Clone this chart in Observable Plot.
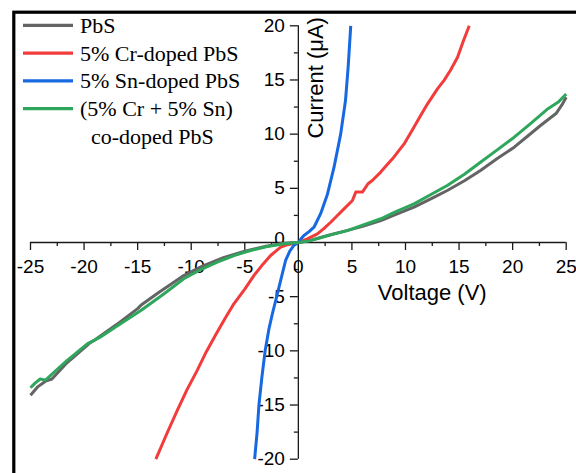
<!DOCTYPE html>
<html>
<head>
<meta charset="utf-8">
<script src="https://cdn.jsdelivr.net/npm/d3@7"></script>
<script src="https://cdn.jsdelivr.net/npm/@observablehq/plot@0.6"></script>
<style>
  html, body { margin: 0; padding: 0; background: #fff; overflow: hidden; }
</style>
</head>
<body>
<div id="chart"></div>
<script>
// I–V curves: voltage (V) and current (µA) for each sample
const pbsV = [-25, -24.3, -23.6, -23, -21.6, -21, -19.5, -19, -17, -15, -14.7, -13, -11, -10.7, -9, -7, -5, -3, -1.5, 0,
  1, 2, 3, 4.5, 6, 7.7, 9, 10.8, 12.5, 13.9, 15.5, 17, 18.5, 20.15, 21.5, 22.6, 24.05, 24.6, 25];
const pbsI = [-14.1, -13.3, -12.8, -12.6, -11.1, -10.6, -9.3, -9.0, -7.6, -6.1, -5.8, -4.6, -3.25, -3.05, -2.2, -1.4, -0.8, -0.35, -0.1, 0,
  0.15, 0.45, 0.72, 1.1, 1.5, 2.03, 2.55, 3.26, 4.1, 4.8, 5.7, 6.65, 7.7, 8.8, 9.9, 10.8, 11.9, 12.7, 13.4];

const crV = [-13.3, -12.3, -11.3, -10.4, -9.44, -8.6, -7.7, -6.9, -6.02, -5, -4.15, -3.3, -2.59, -2.1, -1.65, -1, 0,
  0.84, 1.78, 2.4, 3.02, 3.6, 4.26, 5.05, 5.36, 5.98, 6.5, 6.9, 7.69, 8.3, 8.93, 9.87, 10.8, 11.4, 12.06, 13.0, 13.6, 14.2, 14.86, 15.4, 15.95];
const crI = [-20, -17.7, -15.5, -13.6, -11.8, -10.1, -8.5, -7.1, -5.66, -4.3, -3.05, -2.0, -1.2, -0.8, -0.43, -0.2, 0,
  0.34, 0.8, 1.3, 1.87, 2.45, 3.1, 3.88, 4.65, 4.65, 5.42, 5.72, 6.5, 7.2, 7.9, 9.1, 10.65, 11.7, 12.8, 14.2, 14.96, 15.9, 17.1, 18.6, 20];

const snV = [-4.08, -3.85, -3.68, -3.4, -3.1, -2.75, -2.43, -2.0, -1.65, -1.19, -0.8, -0.4, 0,
  0.25, 0.52, 1.0, 1.46, 2.08, 2.7, 3.33, 3.95, 4.4, 4.65, 4.89];
const snI = [-20, -17.5, -15, -12.4, -10, -8, -6.6, -4.9, -3.5, -1.66, -0.8, -0.25, 0,
  0.35, 0.65, 1.0, 1.41, 2.66, 4.4, 6.95, 10, 13.1, 16.2, 20];

const coV = [-25, -24.6, -24.1, -23.6, -22.5, -21.6, -19.7, -18.5, -17.2, -14.7, -12.5, -10.7, -9, -7.57, -6, -4.46, -3, -1.35, 0,
  1, 2, 3, 4.58, 6, 7.7, 9, 10.8, 12.5, 13.9, 15.5, 17, 18.5, 20.15, 21.7, 23.3, 24.3, 25];
const coI = [-13.4, -13.0, -12.6, -12.7, -11.7, -10.9, -9.35, -8.74, -7.9, -6.28, -4.7, -3.35, -2.45, -1.82, -1.2, -0.74, -0.4, -0.12, 0,
  0.15, 0.42, 0.7, 1.1, 1.6, 2.19, 2.8, 3.57, 4.5, 5.26, 6.3, 7.4, 8.5, 9.72, 11.0, 12.35, 13.0, 13.7];

const seriesNames = ["PbS", "5% Cr-doped PbS", "5% Sn-doped PbS", "(5% Cr + 5% Sn) co-doped PbS"];
const seriesColors = ["#646464", "#f23b3b", "#1769e2", "#2ea65c"];
const legendLines = [["PbS"], ["5% Cr-doped PbS"], ["5% Sn-doped PbS"], ["(5% Cr + 5% Sn)", "co-doped PbS"]];

const xTicks = [-25, -20, -15, -10, -5, 0, 5, 10, 15, 20, 25];
const yTicks = [-20, -15, -10, -5, 5, 10, 15, 20];
const yZero = [0];
const xMinor = [-22.5, -17.5, -12.5, -7.5, -2.5, 2.5, 7.5, 12.5, 17.5, 22.5];
const yMinor = [-17.5, -12.5, -7.5, -2.5, 2.5, 7.5, 12.5, 17.5];

const series = [[pbsV, pbsI], [crV, crI], [snV, snI], [coV, coI]];
const rows = series.flatMap(([vs, is], k) => vs.map((v, j) => ({series: seriesNames[k], v, i: is[j]})));

const axisColor = "#1a1a1a";
const sans = "'Liberation Sans', Arial, sans-serif";
const serif = "'Liberation Serif', 'Times New Roman', serif";

// legend drawn in the top-left corner of the plot
function legend() {
  const g = d3.create("svg:g").attr("text-anchor", "start");
  legendLines.forEach((lines, k) => {
    const y = 25.3 + k * 27.8;
    g.append("line")
      .attr("x1", 23).attr("x2", 73).attr("y1", y).attr("y2", y)
      .attr("stroke", seriesColors[k]).attr("stroke-width", 3.2);
    lines.forEach((t, m) => {
      g.append("text")
        .attr("x", m === 0 ? 80 : 91)
        .attr("y", y + 7.5 + m * 27.8)
        .attr("text-anchor", "start")
        .attr("font-family", serif)
        .attr("font-size", 22)
        .attr("fill", "#000")
        .text(t);
    });
  });
  return g.node();
}

const chart = Plot.plot({
  width: 576,
  height: 473,
  marginLeft: 30,
  marginRight: 10.3,
  marginTop: 25.3,
  marginBottom: 14.3,
  x: {domain: [-25, 25], axis: null},
  y: {domain: [-20, 20], axis: null},
  color: {domain: seriesNames, range: seriesColors},
  style: {background: "#fff", fontFamily: sans},
  marks: [
    Plot.frame({stroke: "#000", strokeWidth: 3.2, insetLeft: -16.7, insetTop: -13.6, insetRight: -40, insetBottom: -40}),
    // axes crossing at the origin
    Plot.ruleY([0], {x1: -25, x2: 25, stroke: axisColor, strokeWidth: 1.3}),
    Plot.ruleX([0], {y1: -20, y2: 20, stroke: axisColor, strokeWidth: 1.3}),
    Plot.ruleX(xTicks, {x: d => d, y1: 0, y2: 0, insetBottom: -8, stroke: axisColor, strokeWidth: 1.3}),
    Plot.ruleX(xMinor, {x: d => d, y1: 0, y2: 0, insetBottom: -4, stroke: axisColor, strokeWidth: 1.3}),
    Plot.ruleY([...yTicks, ...yZero], {y: d => d, x1: 0, x2: 0, insetLeft: -8, stroke: axisColor, strokeWidth: 1.3}),
    Plot.ruleY(yMinor, {y: d => d, x1: 0, x2: 0, insetLeft: -4, stroke: axisColor, strokeWidth: 1.3}),
    Plot.text(xTicks, {x: d => d, y: 0, text: d => String(d), dy: 24.7, fontSize: 19, fill: "#000", fontFamily: sans}),
    Plot.text(yTicks, {x: 0, y: d => d, text: d => String(d), dx: -13.5, textAnchor: "end", fontSize: 19, fill: "#000", fontFamily: sans}),
    Plot.text(yZero, {x: 0, y: d => d, text: d => String(d), dx: -13.5, dy: -4, textAnchor: "end", fontSize: 19, fill: "#000", fontFamily: sans}),
    Plot.text(["Voltage (V)"], {x: 12.5, y: 0, dy: 50, fontSize: 22, fill: "#000", fontFamily: sans}),
    Plot.text(["Current (μA)"], {x: 1.65, y: 15.2, rotate: -90, fontSize: 22, fill: "#000", fontFamily: sans}),
    // I–V curves
    Plot.line(rows, {x: "v", y: "i", z: "series", stroke: "series", strokeWidth: 3, strokeLinejoin: "round", strokeLinecap: "butt"}),
    legend
  ]
});

document.getElementById("chart").appendChild(chart);
</script>
</body>
</html>
